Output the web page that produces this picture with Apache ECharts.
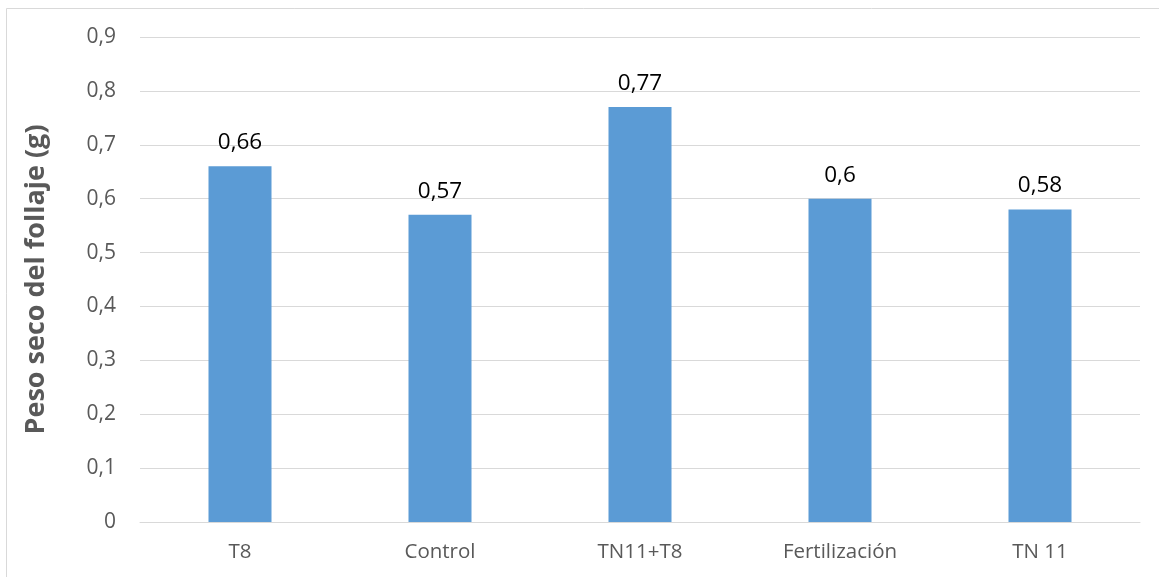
<!DOCTYPE html>
<html>
<head>
<meta charset="utf-8">
<script src="https://cdn.jsdelivr.net/npm/echarts@6/dist/echarts.min.js"></script>
<style>
html,body{margin:0;padding:0;background:#fff;}
#c{width:1159px;height:577px;}
</style>
</head>
<body>
<div id="c"></div>
<script>
const categories = ['T8', 'Control', 'TN11+T8', 'Fertilización', 'TN 11'];
const values = [0.66, 0.57, 0.77, 0.6, 0.58];
const yTicks = [0, 0.1, 0.2, 0.3, 0.4, 0.5, 0.6, 0.7, 0.8, 0.9];
const yAxisTitle = 'Peso seco del follaje (g)';

const fmt = v => String(v).replace('.', ',');
const chart = echarts.init(document.getElementById('c'), null, {renderer: 'canvas'});
chart.setOption({
  animation: false,
  backgroundColor: '#fff',
  graphic: [{
    type: 'rect', silent: true, z: -1,
    shape: {x: 6.5, y: 8.5, width: 1200, height: 700},
    style: {fill: 'none', stroke: '#d9d9d9', lineWidth: 1}
  }],
  grid: {left: 140, right: 19, top: 37, bottom: 55, containLabel: false},
  xAxis: {
    type: 'category',
    data: categories,
    axisLine: {show: true, lineStyle: {color: '#d9d9d9', width: 1}},
    axisTick: {show: false},
    axisLabel: {color: '#595959', fontSize: 20.5, fontFamily: 'Open Sans', margin: 20}
  },
  yAxis: {
    type: 'value',
    min: yTicks[0],
    max: yTicks[yTicks.length - 1],
    interval: 0.1,
    name: yAxisTitle,
    nameLocation: 'middle',
    nameGap: 90,
    nameTextStyle: {color: '#595959', fontSize: 27, fontWeight: 'bold', fontFamily: 'Open Sans'},
    axisLine: {show: false},
    axisTick: {show: false},
    splitLine: {lineStyle: {color: '#d9d9d9', width: 1}},
    axisLabel: {color: '#595959', fontSize: 21, fontFamily: 'Open Sans', margin: 24,
      formatter: v => fmt(Math.round(v * 10) / 10)}
  },
  series: [{
    type: 'bar',
    data: values,
    barWidth: '31.5%',
    itemStyle: {color: '#5b9bd5'},
    label: {show: true, position: 'top', distance: 12, color: '#000', fontSize: 22.5,
      fontFamily: 'Open Sans', formatter: p => fmt(p.value)}
  }]
});
</script>
</body>
</html>
